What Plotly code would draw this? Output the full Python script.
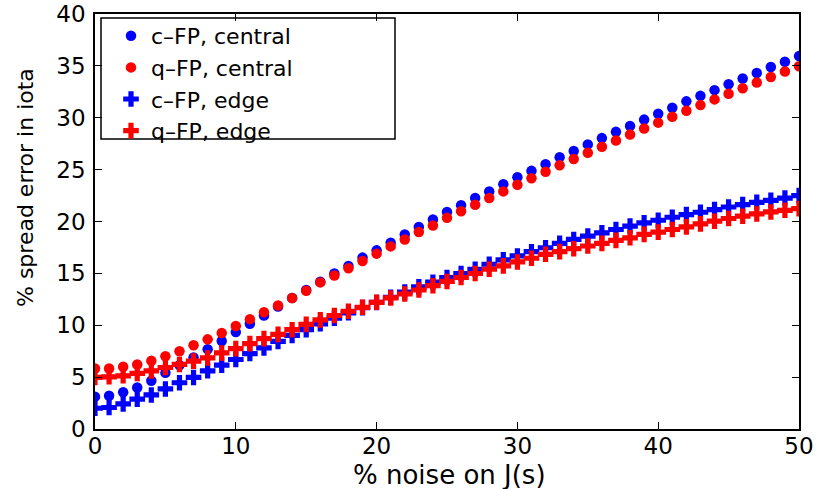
import plotly.graph_objects as go

noise = list(range(0, 51))

c_central = [3.12, 3.2, 3.54, 4.0, 4.65, 5.42, 6.15, 6.89, 7.68, 8.48,
             9.34, 10.14, 10.94, 11.8, 12.62, 13.4, 14.2, 14.99, 15.72, 16.52,
             17.22, 17.95, 18.75, 19.48, 20.19, 20.92, 21.56, 22.26, 22.9, 23.6,
             24.27, 24.88, 25.51, 26.2, 26.8, 27.43, 28.04, 28.64, 29.21, 29.82,
             30.39, 30.97, 31.58, 32.11, 32.66, 33.23, 33.78, 34.31, 34.89, 35.4,
             35.94]
q_central = [5.83, 5.83, 6.0, 6.22, 6.57, 7.01, 7.49, 8.07, 8.64, 9.25,
             9.92, 10.59, 11.26, 11.9, 12.63, 13.33, 14.13, 14.8, 15.5, 16.2,
             16.9, 17.6, 18.27, 18.98, 19.61, 20.35, 20.98, 21.62, 22.26, 22.9,
             23.54, 24.17, 24.8, 25.42, 26.02, 26.63, 27.2, 27.81, 28.38, 28.96,
             29.53, 30.1, 30.68, 31.22, 31.77, 32.31, 32.85, 33.4, 33.93, 34.45,
             34.96]
c_edge = [2.0, 2.07, 2.42, 2.87, 3.28, 3.86, 4.46, 4.97, 5.61, 6.15,
          6.7, 7.27, 7.81, 8.45, 9.02, 9.57, 10.14, 10.68, 11.2, 11.7,
          12.2, 12.7, 13.2, 13.7, 14.15, 14.6, 14.99, 15.4, 15.88, 16.3,
          16.68, 17.09, 17.47, 17.9, 18.27, 18.59, 18.91, 19.23, 19.55, 19.87,
          20.12, 20.41, 20.67, 20.89, 21.15, 21.4, 21.63, 21.85, 22.04, 22.26,
          22.49]
q_edge = [4.97, 5.03, 5.13, 5.36, 5.6, 5.93, 6.22, 6.54, 6.85, 7.33,
          7.75, 8.23, 8.71, 9.12, 9.57, 10.08, 10.52, 10.94, 11.35, 11.73,
          12.21, 12.63, 13.01, 13.4, 13.81, 14.22, 14.6, 14.99, 15.4, 15.72,
          16.1, 16.46, 16.84, 17.1, 17.38, 17.64, 17.89, 18.18, 18.43, 18.76,
          18.98, 19.23, 19.48, 19.77, 20.03, 20.29, 20.51, 20.73, 20.92, 21.08,
          21.24]

x_ticks = [0, 10, 20, 30, 40, 50]
y_ticks = [0, 5, 10, 15, 20, 25, 30, 35, 40]

FONT = "DejaVu Sans"
BLUE = "#0000FF"
RED = "#FF0000"

fig = go.Figure()
fig.add_trace(go.Scatter(x=noise, y=c_central, mode="markers", name="c\u2013FP, central",
                         marker=dict(symbol="circle", size=10.5, color=BLUE)))
fig.add_trace(go.Scatter(x=noise, y=q_central, mode="markers", name="q\u2013FP, central",
                         marker=dict(symbol="circle", size=10.5, color=RED)))
fig.add_trace(go.Scatter(x=noise, y=c_edge, mode="markers", name="c\u2013FP, edge",
                         marker=dict(symbol="cross", size=13, color=BLUE)))
fig.add_trace(go.Scatter(x=noise, y=q_edge, mode="markers", name="q\u2013FP, edge",
                         marker=dict(symbol="cross", size=13, color=RED)))

W, H = 830, 489
L, R, T, B = 95, 31, 14, 60
PW, PH = W - L - R, H - T - B

def px2x(px):
    return (px - L) / PW

def py2y(py):
    return (H - B - py) / PH

axis_common = dict(showgrid=False, zeroline=False, showline=True, linecolor="black",
                   linewidth=1.5, mirror="ticks", ticks="inside", ticklen=7,
                   tickwidth=1, tickcolor="black", ticklabeloverflow="allow",
                   tickfont=dict(family=FONT, size=23, color="black"))

fig.update_layout(
    width=W, height=H,
    margin=dict(l=L, r=R, t=T, b=B, autoexpand=False),
    paper_bgcolor="white", plot_bgcolor="white",
    showlegend=True,
    legend=dict(x=px2x(111), y=py2y(15), xanchor="left", yanchor="top",
                bgcolor="rgba(0,0,0,0)", borderwidth=0,
                font=dict(family=FONT, size=22, color="black")),
    xaxis=dict(range=[0, 50], tickvals=x_ticks, ticktext=[str(v) for v in x_ticks],
               ticklabelstandoff=-4, **axis_common),
    yaxis=dict(range=[0, 40], tickvals=y_ticks, ticktext=[str(v) for v in y_ticks],
               ticklabelstandoff=3, **axis_common),
    shapes=[dict(type="rect", xref="paper", yref="paper",
                 x0=px2x(101), x1=px2x(395), y0=py2y(139), y1=py2y(18),
                 line=dict(color="black", width=1.5), fillcolor="white", layer="below")],
    annotations=[
        dict(text="% noise on J(s)", xref="paper", yref="paper",
             x=px2x(449), y=py2y(475), xanchor="center", yanchor="middle",
             showarrow=False, font=dict(family=FONT, size=26, color="black")),
        dict(text="% spread error in iota", xref="paper", yref="paper",
             x=px2x(26), y=py2y(188), xanchor="center", yanchor="middle", textangle=-90,
             showarrow=False, font=dict(family=FONT, size=22, color="black")),
    ],
)

fig.write_html("out.html")
